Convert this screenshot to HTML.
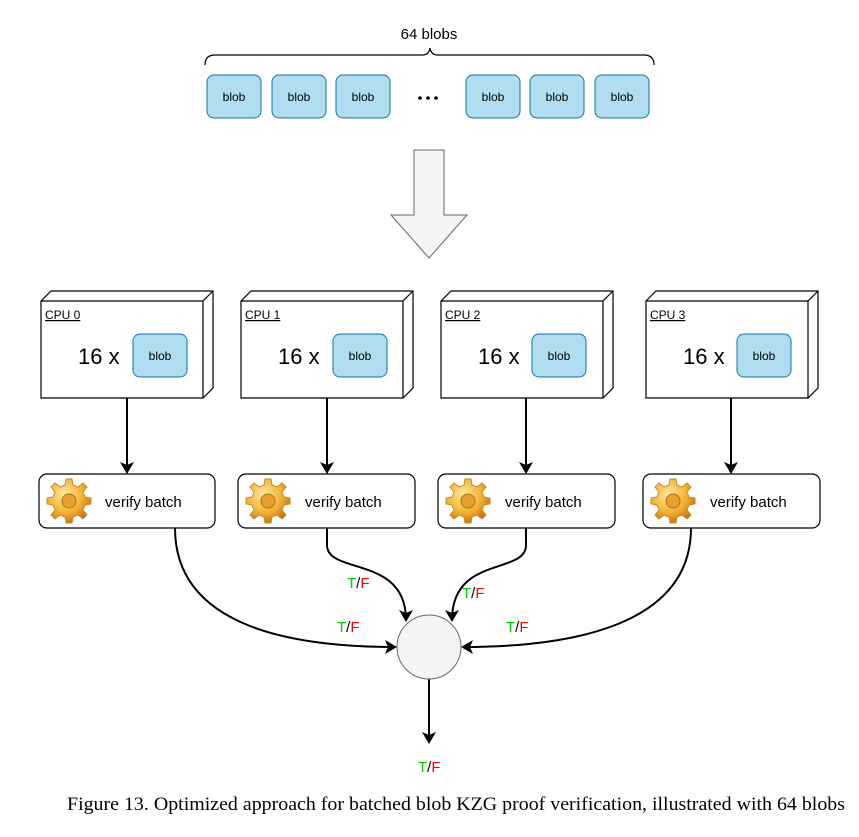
<!DOCTYPE html>
<html><head><style>
body{margin:0;background:#fff;}
svg{display:block;font-family:"Liberation Sans",sans-serif;}
</style></head><body>
<svg width="859" height="837" viewBox="0 0 859 837">
<defs>
<marker id="ah" markerWidth="12" markerHeight="14" refX="10" refY="7" orient="auto" markerUnits="userSpaceOnUse">
<path d="M0,0 L12,7 L0,14 L3,7 Z" fill="#000"/></marker>
<radialGradient id="g" cx="40%" cy="35%" r="70%"><stop offset="0" stop-color="#ffe9a0"/><stop offset="0.6" stop-color="#f0b030"/><stop offset="1" stop-color="#c07010"/></radialGradient>
<g id="gear">
<path d="M19,0 L25,0 L26,6 L31,8 L36,4 L40,8 L36,13 L38,18 L44,19 L44,25 L38,26 L36,31 L40,36 L36,40 L31,36 L26,38 L25,44 L19,44 L18,38 L13,36 L8,40 L4,36 L8,31 L6,26 L0,25 L0,19 L6,18 L8,13 L4,8 L8,4 L13,8 L18,6 Z" fill="url(#g)" stroke="#c98a20" stroke-width="1"/>
<circle cx="22" cy="22" r="7" fill="#e8a030" stroke="#b07010"/>
</g>
</defs>
<text x="429" y="39" font-size="15" text-anchor="middle">64 blobs</text>
<path d="M205,65 Q205,55 215,55 L422,55 Q429,55 430,48 Q431,55 438,55 L644,55 Q654,55 654,65" fill="none" stroke="#000" stroke-width="1.2"/>
<g stroke="#10739e" fill="#b1ddf0">
<rect x="207" y="75" width="54" height="43" rx="7"/><rect x="272" y="75" width="54" height="43" rx="7"/><rect x="336" y="75" width="54" height="43" rx="7"/>
<rect x="466" y="75" width="54" height="43" rx="7"/><rect x="530" y="75" width="54" height="43" rx="7"/><rect x="595" y="75" width="54" height="43" rx="7"/>
</g>
<g font-size="12" text-anchor="middle">
<text x="234" y="101">blob</text><text x="299" y="101">blob</text><text x="363" y="101">blob</text>
<text x="493" y="101">blob</text><text x="557" y="101">blob</text><text x="622" y="101">blob</text>
</g>
<g fill="#000"><circle cx="420" cy="98" r="1.8"/><circle cx="428" cy="98" r="1.8"/><circle cx="436" cy="98" r="1.8"/></g>
<path d="M414,150 L444,150 L444,215 L467,215 L429,258 L391,215 L414,215 Z" fill="#f5f5f5" stroke="#666"/>
<g id="cpu0">
<path d="M41,301 L51,291 L213,291 L213,388 L203,398 L41,398 Z" fill="#fff" stroke="#000" stroke-width="1.2"/>
<path d="M41,301 L203,301 L213,291 M203,301 L203,398" fill="none" stroke="#000" stroke-width="1.2"/>
</g>
<use href="#cpu0" x="200"/><use href="#cpu0" x="400"/><use href="#cpu0" x="605"/>
<g font-size="12" text-decoration="underline">
<text x="45" y="319">CPU 0</text><text x="245" y="319">CPU 1</text><text x="445" y="319">CPU 2</text><text x="650" y="319">CPU 3</text>
</g>
<g font-size="22">
<text x="78" y="364">16 x</text><text x="278" y="364">16 x</text><text x="478" y="364">16 x</text><text x="683" y="364">16 x</text>
</g>
<g stroke="#10739e" fill="#b1ddf0">
<rect x="133" y="334" width="54" height="43" rx="7"/><rect x="333" y="334" width="54" height="43" rx="7"/><rect x="532" y="334" width="54" height="43" rx="7"/><rect x="737" y="334" width="54" height="43" rx="7"/>
</g>
<g font-size="12" text-anchor="middle">
<text x="160" y="360">blob</text><text x="360" y="360">blob</text><text x="559" y="360">blob</text><text x="764" y="360">blob</text>
</g>
<g stroke="#000" stroke-width="2" marker-end="url(#ah)">
<line x1="127" y1="398" x2="127" y2="472"/><line x1="327" y1="398" x2="327" y2="472"/><line x1="526" y1="398" x2="526" y2="472"/><line x1="731" y1="398" x2="731" y2="472"/>
</g>
<g fill="#fff" stroke="#000" stroke-width="1.2">
<rect x="39" y="474" width="176" height="54" rx="8"/><rect x="238" y="474" width="177" height="54" rx="8"/><rect x="438" y="474" width="177" height="54" rx="8"/><rect x="643" y="474" width="177" height="54" rx="8"/>
</g>
<use href="#gear" x="47" y="479"/><use href="#gear" x="246" y="479"/><use href="#gear" x="446" y="479"/><use href="#gear" x="651" y="479"/>
<g font-size="15">
<text x="105" y="507">verify batch</text><text x="305" y="507">verify batch</text><text x="505" y="507">verify batch</text><text x="710" y="507">verify batch</text>
</g>
<g fill="none" stroke="#000" stroke-width="2" marker-end="url(#ah)">
<path d="M175,528 C175,630 300,647 395,647"/>
<path d="M327,528 L327,545 C327,575 406,555 406,620"/>
<path d="M526,528 L526,545 C526,575 452,555 452,620"/>
<path d="M691,528 C691,630 560,647 463,647"/>
<line x1="429" y1="679" x2="429" y2="742"/>
</g>
<circle cx="429" cy="647" r="32" fill="#f5f5f5" stroke="#666"/>
<g font-size="15">
<text x="337" y="632"><tspan fill="#00cc00">T</tspan>/<tspan fill="#ff0000">F</tspan></text>
<text x="347" y="588"><tspan fill="#00cc00">T</tspan>/<tspan fill="#ff0000">F</tspan></text>
<text x="462" y="598"><tspan fill="#00cc00">T</tspan>/<tspan fill="#ff0000">F</tspan></text>
<text x="506" y="632"><tspan fill="#00cc00">T</tspan>/<tspan fill="#ff0000">F</tspan></text>
<text x="418" y="772"><tspan fill="#00cc00">T</tspan>/<tspan fill="#ff0000">F</tspan></text>
</g>
<text x="67" y="810" font-size="19" textLength="778" lengthAdjust="spacingAndGlyphs" font-family="Liberation Serif, serif">Figure 13. Optimized approach for batched blob KZG proof verification, illustrated with 64 blobs</text>
</svg>
</body></html>
